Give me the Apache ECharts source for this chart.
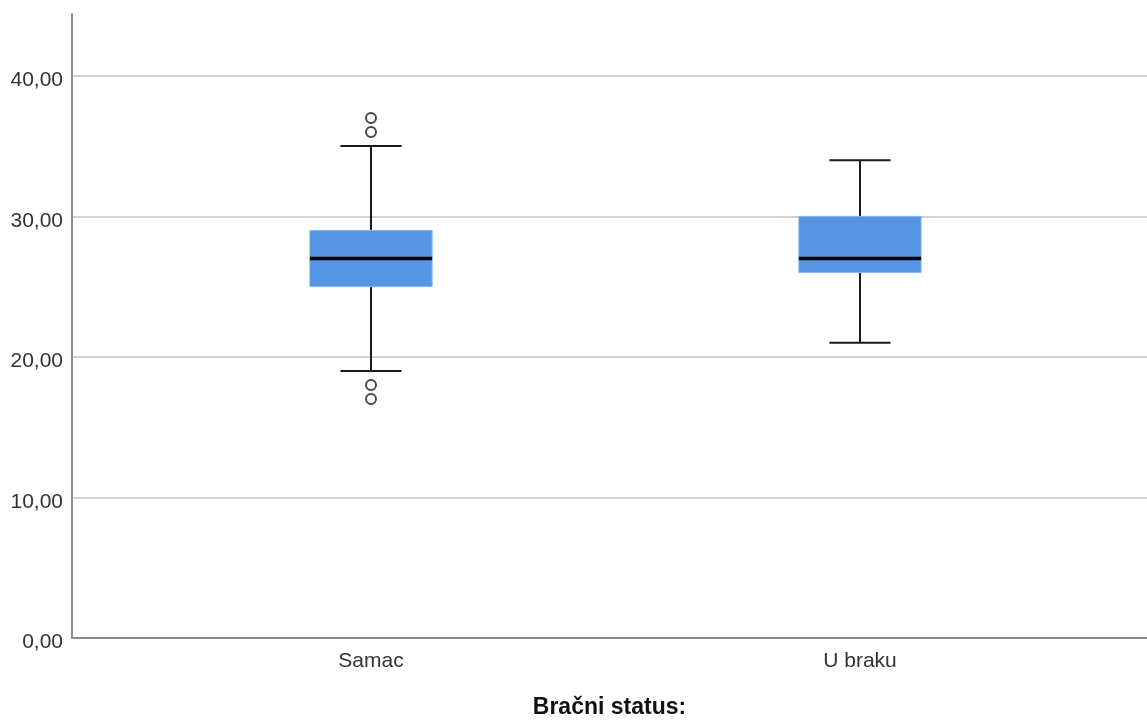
<!DOCTYPE html>
<html>
<head>
<meta charset="utf-8">
<script src="https://cdn.jsdelivr.net/npm/echarts@6/dist/echarts.min.js"></script>
<style>
html,body{margin:0;padding:0;background:#fff;}
#chart{width:1147px;height:724px;}
</style>
</head>
<body>
<div id="chart"></div>
<script>
// Data
const categories = ['Samac', 'U braku'];
const categoryPositions = [1, 2];
// [min whisker, Q1, median, Q3, max whisker]
const boxStats = [
  [19, 25, 27, 29, 35],
  [21, 26, 27, 30, 34]
];
// outliers: [category index, value]
const outliers = [
  [0, 36], [0, 37], [0, 18], [0, 17]
];
const yTicks = [0, 10, 20, 30, 40];

const boxData = boxStats.map((s, i) => [categoryPositions[i]].concat(s));
const outlierData = outliers.map(o => [categoryPositions[o[0]], o[1]]);

const chart = echarts.init(document.getElementById('chart'));
const fmt = v => v.toFixed(2).replace('.', ',');

chart.setOption({
  animation: false,
  backgroundColor: '#fff',
  grid: { left: 72, right: 0, top: 14, bottom: 79, containLabel: false },
  xAxis: {
    type: 'value',
    min: 0.3885,
    max: 2.587,
    name: 'Bračni status:',
    nameLocation: 'middle',
    nameGap: 58,
    nameTextStyle: { fontFamily: 'Liberation Sans', fontSize: 23, fontWeight: 'bold', color: '#111' },
    axisLine: { show: true, lineStyle: { color: '#8c8c8c', width: 2 } },
    axisTick: { show: false },
    splitLine: { show: false },
    axisLabel: {
      customValues: categoryPositions,
      formatter: v => categories[categoryPositions.indexOf(v)] || '',
      fontFamily: 'Liberation Sans', fontSize: 21, color: '#333', margin: 13
    }
  },
  yAxis: {
    type: 'value',
    min: 0,
    max: 44.4,
    interval: 10,
    axisLine: { show: true, lineStyle: { color: '#8c8c8c', width: 2 } },
    axisTick: { show: false },
    splitLine: { show: true, showMaxLine: false, lineStyle: { color: '#d2d2d2', width: 2 } },
    axisLabel: {
      customValues: yTicks,
      formatter: v => '{s| }\n{v|' + fmt(v) + '}',
      verticalAlign: 'middle',
      margin: 9,
      rich: {
        s: { fontSize: 2, lineHeight: 9 },
        v: { fontFamily: 'Liberation Sans', fontSize: 21, lineHeight: 22, color: '#333' }
      }
    }
  },
  series: [
    {
      type: 'custom',
      data: boxData,
      encode: { x: 0, y: [1, 2, 3, 4, 5] },
      renderItem: function (params, api) {
        const x = api.value(0);
        const mn = api.coord([x, api.value(1)]);
        const q1 = api.coord([x, api.value(2)]);
        const md = api.coord([x, api.value(3)]);
        const q3 = api.coord([x, api.value(4)]);
        const mx = api.coord([x, api.value(5)]);
        const bw = api.size([0.25, 0])[0];
        const cw = bw / 2;
        const cx = mn[0];
        const lineStyle = { stroke: '#1a1a1a', lineWidth: 2 };
        return {
          type: 'group',
          children: [
            { type: 'line', shape: { x1: cx, y1: q3[1], x2: cx, y2: mx[1] }, style: lineStyle },
            { type: 'line', shape: { x1: cx, y1: q1[1], x2: cx, y2: mn[1] }, style: lineStyle },
            { type: 'line', shape: { x1: cx - cw / 2, y1: mx[1], x2: cx + cw / 2, y2: mx[1] }, style: lineStyle },
            { type: 'line', shape: { x1: cx - cw / 2, y1: mn[1], x2: cx + cw / 2, y2: mn[1] }, style: lineStyle },
            { type: 'rect', shape: { x: cx - bw / 2, y: q3[1], width: bw, height: q1[1] - q3[1] },
              style: { fill: '#5595e4', stroke: '#8ab6ee', lineWidth: 1 } },
            { type: 'line', shape: { x1: cx - bw / 2, y1: md[1], x2: cx + bw / 2, y2: md[1] },
              style: { stroke: '#000', lineWidth: 3.5 } }
          ]
        };
      },
      z: 3
    },
    {
      type: 'scatter',
      data: outlierData,
      symbol: 'circle',
      symbolSize: 10,
      itemStyle: { color: '#fff', borderColor: '#1a1a1a', borderWidth: 2 },
      z: 4
    }
  ]
});
</script>
</body>
</html>
